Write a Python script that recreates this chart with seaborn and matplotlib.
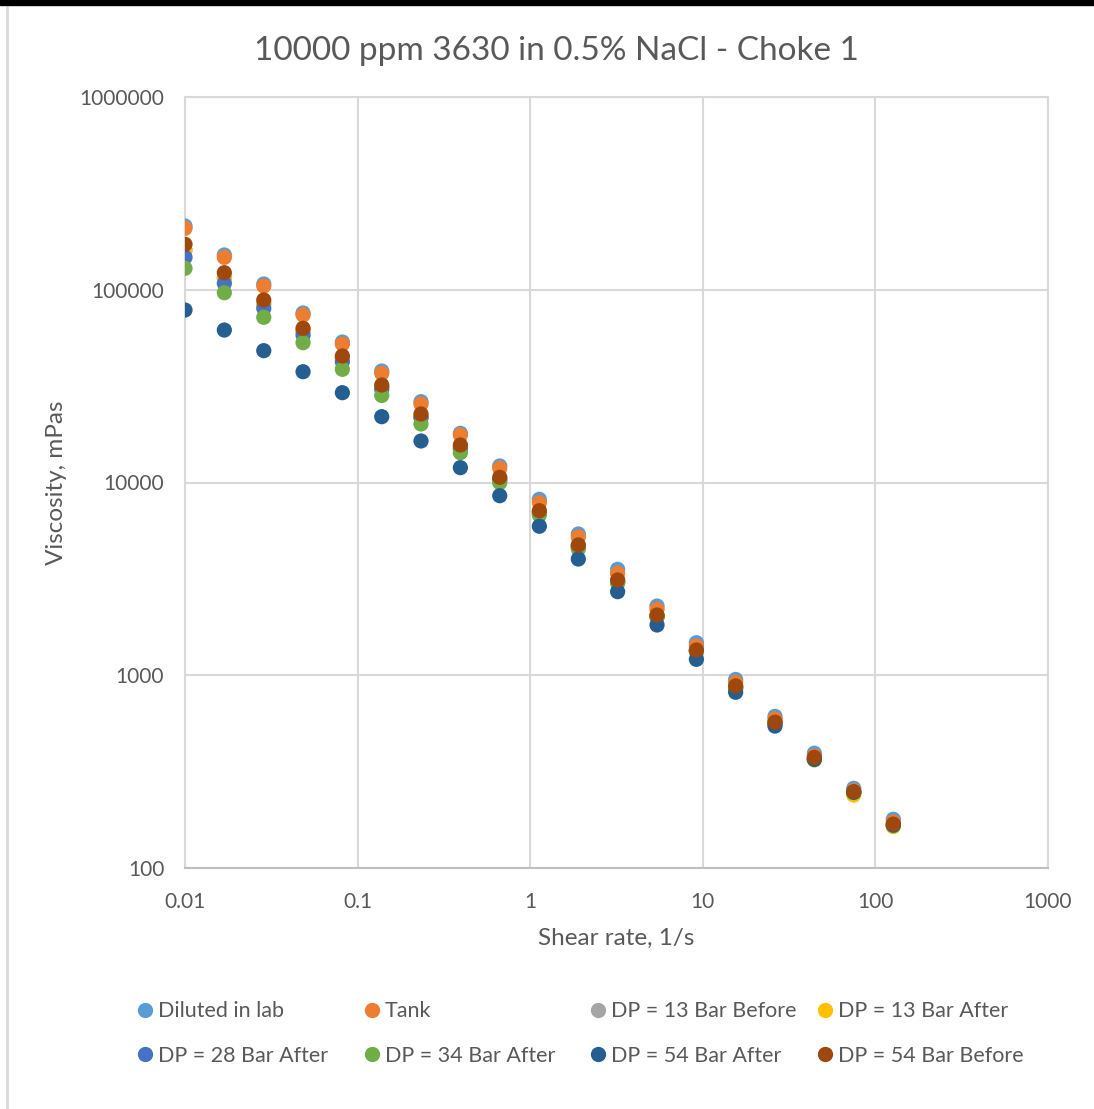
import numpy as np
import matplotlib.pyplot as plt
import matplotlib.patches as mpatches
from matplotlib.lines import Line2D
from matplotlib.ticker import FixedLocator, NullLocator
import pandas as pd
import seaborn as sns

# shear rate, 1/s
shear_rate = [0.01, 0.0169, 0.0286, 0.0483, 0.0816, 0.138, 0.233, 0.394, 0.666,
              1.13, 1.90, 3.21, 5.43, 9.18, 15.5, 26.2, 44.3, 74.9, 127]

# viscosity, mPas
diluted_in_lab = [214100, 151500, 107100, 75760, 53570, 37880, 26260, 18000, 12180,
                  8180, 5405, 3545, 2287, 1475, 951, 612, 394, 259, 179]
tank = [208400, 147300, 104600, 73960, 52300, 36850, 25550, 17640, 11850,
        7860, 5215, 3380, 2198, 1418, 917, 593, 381, 252, 173]
dp13_before = [160800, 115100, 84400, 61100, 44260, 31290, 22130, 15280, 10430,
               7030, 4684, 3083, 2030, 1344, 869, 565, 371, 247, 167]
dp13_after = [160800, 115100, 84400, 61100, 44260, 31290, 22130, 15280, 10430,
              7030, 4684, 3083, 2030, 1344, 869, 565, 363, 239, 164]
dp28_after = [147300, 108000, 80100, 58250, 42340, 30440, 21610, 14920, 10300,
              6950, 4628, 3046, 2018, 1336, 858, 562, 368, 247, 167]
dp34_after = [129200, 96500, 71960, 53130, 38660, 28280, 20120, 14280, 9980,
              6780, 4519, 3000, 1998, 1325, 858, 562, 368, 246, 166]
dp54_after = [78500, 61800, 48300, 37560, 29240, 21950, 16420, 11940, 8540,
              5930, 4010, 2714, 1823, 1209, 816, 545, 366, 247, 167]
dp54_before = [172100, 122600, 88500, 63100, 45320, 32040, 22670, 15650, 10640,
               7140, 4740, 3120, 2054, 1352, 880, 571, 375, 249, 169]

series_names = ["Diluted in lab", "Tank", "DP = 13 Bar Before", "DP = 13 Bar After",
                "DP = 28 Bar After", "DP = 34 Bar After", "DP = 54 Bar After",
                "DP = 54 Bar Before"]
series_values = [diluted_in_lab, tank, dp13_before, dp13_after,
                 dp28_after, dp34_after, dp54_after, dp54_before]
colors = ["#5B9BD5", "#ED7D31", "#A5A5A5", "#FFC000",
          "#4472C4", "#70AD47", "#255E91", "#9E480E"]

x_ticks = [0.01, 0.1, 1, 10, 100, 1000]
y_ticks = [100, 1000, 10000, 100000, 1000000]

df = pd.concat([pd.DataFrame({"shear": shear_rate, "visc": v, "series": n})
                for n, v in zip(series_names, series_values)], ignore_index=True)

sns.set_style("white")
plt.rcParams['font.family'] = ['Lato', 'DejaVu Sans']
text_color = "#595959"
grid_color = "#D9D9D9"

fig = plt.figure(figsize=(10.94, 11.09), dpi=100)
ax = fig.add_axes([185 / 1094, 1 - 868 / 1109, (1048 - 185) / 1094, (868 - 97) / 1109])

# later series drawn on top, like the original
for i, name in enumerate(series_names):
    sns.scatterplot(data=df[df["series"] == name], x="shear", y="visc", ax=ax,
                    color=colors[i], s=120, edgecolor="none", legend=False, zorder=3 + i)

ax.set_xscale("log")
ax.set_yscale("log")
ax.set_xlim(0.01, 1000)
ax.set_ylim(100, 1000000)
ax.xaxis.set_major_locator(FixedLocator(x_ticks))
ax.yaxis.set_major_locator(FixedLocator(y_ticks))
ax.xaxis.set_minor_locator(NullLocator())
ax.yaxis.set_minor_locator(NullLocator())
ax.set_xticklabels([f"{t:g}" for t in x_ticks])
ax.set_yticklabels([f"{t:d}" for t in y_ticks])
ax.tick_params(axis="both", length=0, labelsize=15, colors=text_color)
ax.tick_params(axis="x", pad=17)
ax.tick_params(axis="y", pad=15)
ax.grid(True, color=grid_color, linewidth=1.5)
for sp in ax.spines.values():
    sp.set_color(grid_color)
    sp.set_linewidth(1.5)
ax.spines["bottom"].set_color("#BFBFBF")

ax.set_xlabel("Shear rate, 1/s", fontsize=17.5, color=text_color, labelpad=12)
ax.set_ylabel("Viscosity, mPas", fontsize=17.5, color=text_color, labelpad=9)
fig.text(556 / 1094, 1 - 51 / 1109, "10000 ppm 3630 in 0.5% NaCl - Choke 1",
         ha="center", va="center", fontsize=24, color=text_color)

# legend: 4 equal-width columns, 2 rows, filled row by row
fs = 15.5
fs_px = fs * 100 / 72
hl = 0.8
col_marker_x = [145, 372, 598, 825]
for j in range(4):
    idx = [j, j + 4]
    hs = [Line2D([], [], marker="o", linestyle="none", markersize=11,
                 markerfacecolor=colors[i], markeredgecolor="none") for i in idx]
    left = col_marker_x[j] - hl * fs_px / 2
    leg = fig.legend(hs, [series_names[i] for i in idx], loc="center left",
                     bbox_to_anchor=(left / 1094, 1 - 1033.5 / 1109), frameon=False,
                     fontsize=fs, labelcolor=text_color, handlelength=hl,
                     handletextpad=0.2, labelspacing=1.15, borderpad=0, borderaxespad=0)

# chart frame: black strip on top and light border at left
fig.patches.append(mpatches.Rectangle((0, 1 - 5 / 1109), 1, 5 / 1109, transform=fig.transFigure,
                                      color="black", zorder=10))
fig.lines.append(Line2D([6.5 / 1094, 6.5 / 1094], [0, 1 - 7 / 1109], transform=fig.transFigure,
                        color=grid_color, linewidth=2))

fig.savefig("out.png", dpi=100)
